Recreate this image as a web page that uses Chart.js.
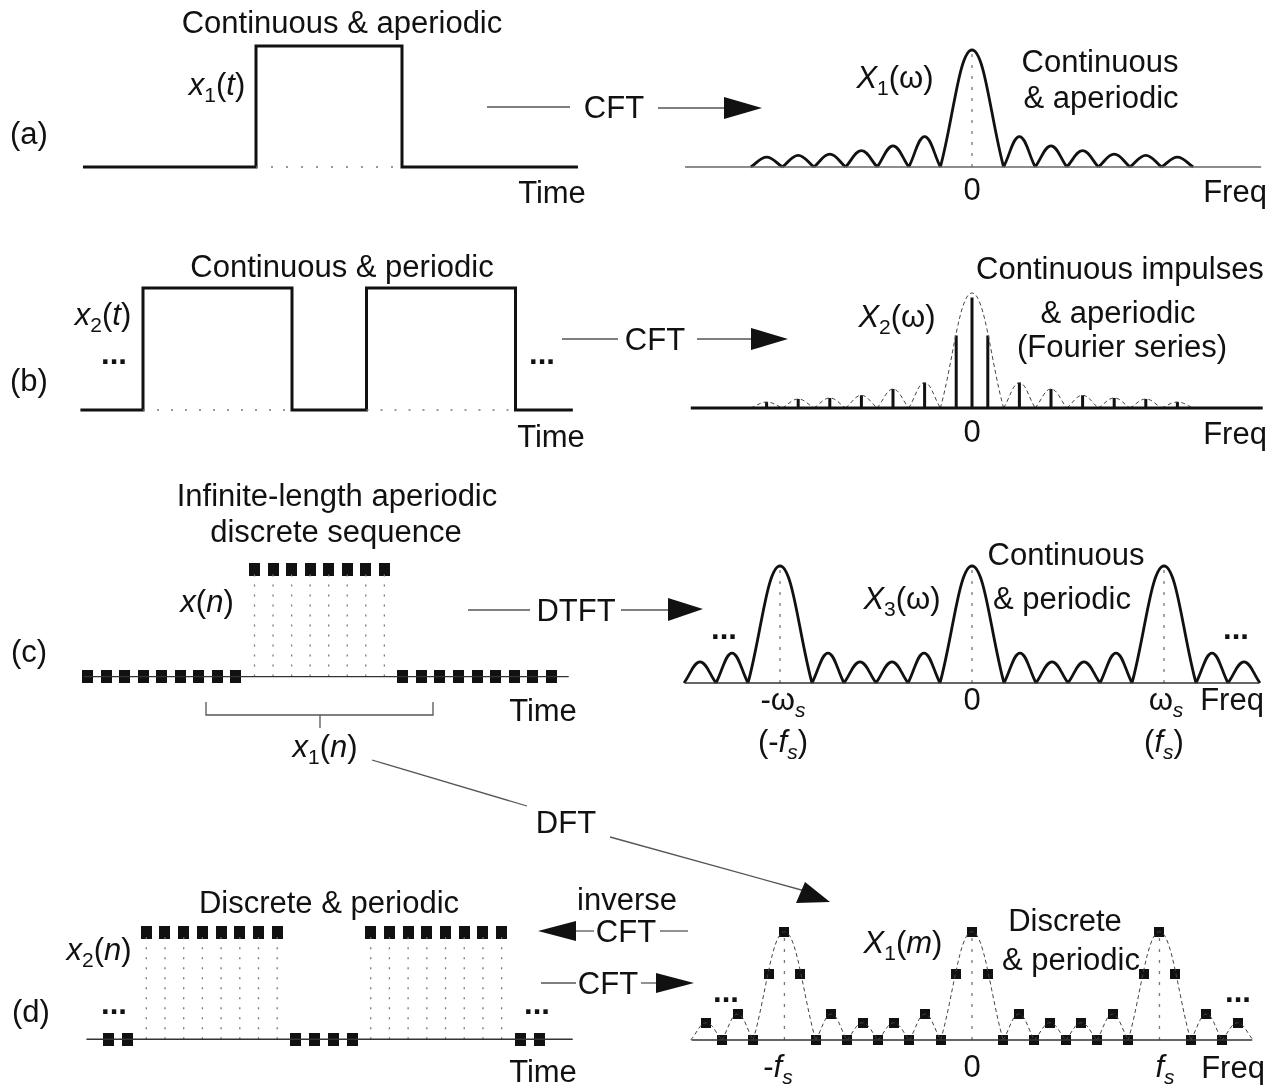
<!DOCTYPE html>
<html>
<head>
<meta charset="utf-8">
<title>Fourier transform relationships</title>
<script src="https://cdn.jsdelivr.net/npm/chart.js@4.4.1/dist/chart.umd.min.js"></script>
<style>
  html, body { margin: 0; padding: 0; background: #fff; }
  #stage { position: relative; width: 1272px; height: 1086px; overflow: hidden; }
  #ink { position: absolute; left: 0; top: 0; z-index: 2; }
  #ink text { font-family: "Liberation Sans", Arial, Helvetica, sans-serif; font-size: 31px; fill: #111; }
</style>
</head>
<body>
<div id="stage">
  <svg id="ink" width="1272" height="1086" xmlns="http://www.w3.org/2000/svg"></svg>
</div>
<script>
// ---------- data ----------
// (a) single pulse x1(t) and its continuous spectrum X1(w)
const pulseTimeA  = [-3.37, -1, -1, 1, 1, 3.41];
const pulseLevelA = [0, 0, 1, 1, 0, 0];
const lobeEdgesA  = [-7, -6, -5, -4, -3, -2, -1, 1, 2, 3, 4, 5, 6, 7];
const lobePeaksA  = [0.085, 0.10, 0.11, 0.14, 0.18, 0.26, 1, 0.26, 0.18, 0.14, 0.11, 0.10, 0.085];
const freqSpanA   = [-9.08, 9.15];

// (b) periodic pulse train x2(t) and its Fourier-series lines X2(w)
const pulseTimeB  = [-1.84, -1, -1, 1, 1, 2, 2, 4, 4, 4.77];
const pulseLevelB = [0, 0, 1, 1, 0, 0, 1, 1, 0, 0];
const lineFreqB   = [-6.5, -5.5, -4.5, -3.5, -2.5, -1.5, -0.5, 0, 0.5, 1.5, 2.5, 3.5, 4.5, 5.5, 6.5];
const lineAmpB    = [0.052, 0.078, 0.087, 0.11, 0.165, 0.22, 0.63, 0.96, 0.63, 0.22, 0.165, 0.11, 0.087, 0.078, 0.052];
const envPeaksB   = [0.052, 0.078, 0.087, 0.11, 0.165, 0.22, 1, 0.22, 0.165, 0.11, 0.087, 0.078, 0.052];
const freqSpanB   = [-8.9, 9.2];

// (c) infinite-length sequence x(n) and its periodic DTFT X3(w)
const seqIndexC = [-9, -8, -7, -6, -5, -4, -3, -2, -1, 0, 1, 2, 3, 4, 5, 6, 7, 8, 9, 10, 11, 12, 13, 14, 15, 16];
const seqValueC = [0, 0, 0, 0, 0, 0, 0, 0, 0, 1, 1, 1, 1, 1, 1, 1, 1, 0, 0, 0, 0, 0, 0, 0, 0, 0];
const timeSpanC = [-9.2, 16.94];
const lobeEdgesC = [-9, -8, -7, -5, -4, -3, -2, -1, 1, 2, 3, 4, 5, 7, 8, 9];
const lobePeaksC = [0.18, 0.256, 1, 0.256, 0.18, 0.18, 0.256, 1, 0.256, 0.18, 0.18, 0.256, 1, 0.256, 0.18];
const centresC   = [-6, 0, 6];
const freqSpanC  = [-8.97, 8.97];

// (d) periodic sequence x2(n) and its DFT X1(m)
const seqIndexD = [0, 1, 2, 3, 4, 5, 6, 7, 8, 9, 10, 11, 12, 13, 14, 15, 16, 17, 18, 19, 20, 21, 22, 23];
const seqValueD = [0, 0, 1, 1, 1, 1, 1, 1, 1, 1, 0, 0, 0, 0, 1, 1, 1, 1, 1, 1, 1, 1, 0, 0];
const timeSpanD = [-1.2, 24.8];
const binD    = [-17, -16, -15, -14, -13, -12, -11, -10, -9, -8, -7, -6, -5, -4, -3, -2, -1, 0,
                 1, 2, 3, 4, 5, 6, 7, 8, 9, 10, 11, 12, 13, 14, 15, 16, 17];
const binMagD = [0.16, 0, 0.24, 0, 0.61, 1, 0.61, 0, 0.24, 0, 0.16, 0, 0.16, 0, 0.24, 0, 0.61, 1,
                 0.61, 0, 0.24, 0, 0.16, 0, 0.16, 0, 0.24, 0, 0.61, 1, 0.61, 0, 0.24, 0, 0.16];
const envEdgesD = [-18, -16, -14, -10, -8, -6, -4, -2, 2, 4, 6, 8, 10, 14, 16, 18];
const envPeaksD = [0.16, 0.24, 1, 0.24, 0.16, 0.16, 0.24, 1, 0.24, 0.16, 0.16, 0.24, 1, 0.24, 0.16];
const centresD  = [-12, 0, 12];
const freqSpanD = [-17.94, 17.94];

// ---------- helpers ----------
const INK = '#111';
const DOT = '#777';

const xy = (xs, ys) => xs.map((x, i) => ({ x, y: ys[i] }));
const span = (s) => [{ x: s[0], y: 0 }, { x: s[1], y: 0 }];

// arch-shaped lobes between consecutive zero crossings
function lobes(edges, peaks) {
  const pts = [];
  peaks.forEach((h, i) => {
    const a = edges[i], b = edges[i + 1];
    pts.push({ x: a, y: 0 }, { x: (a + b) / 2, y: h }, { x: b, y: 0 }, { x: b, y: null });
  });
  return pts;
}
// vertical stems from the axis up to each value
function stems(xs, ys) {
  const pts = [];
  xs.forEach((x, i) => { if (ys[i] > 0) pts.push({ x, y: 0 }, { x, y: ys[i] }, { x, y: null }); });
  return pts;
}
// horizontal runs on the axis underneath the raised parts of a pulse train
function under(times, levels) {
  const pts = [];
  for (let i = 0; i < times.length - 1; i++) {
    if (levels[i] === 1 && levels[i + 1] === 1) pts.push({ x: times[i], y: 0 }, { x: times[i + 1], y: 0 }, { x: times[i + 1], y: null });
  }
  return pts;
}
function block(w, h) {
  const c = document.createElement('canvas');
  c.width = w; c.height = h;
  const g = c.getContext('2d');
  g.fillStyle = INK; g.fillRect(0, 0, w, h);
  return c;
}
const tallBlock = block(11, 13);
const smallBlock = block(10, 10);

const line = (data, o = {}) => Object.assign({
  data, showLine: true, pointRadius: 0, borderColor: INK, borderWidth: 3,
  fill: false, tension: 0, clip: false, spanGaps: false,
  borderJoinStyle: 'miter', borderCapStyle: 'butt'
}, o);
const dotted = (data, dash) => line(data, { borderColor: DOT, borderWidth: 1.3, borderDash: dash });
const blocks = (data, marker) => ({
  data, showLine: false, pointStyle: marker, pointRadius: 6, clip: false
});

// one chart per panel; box = placement on the page, origin/unit = where value 0 sits and px per unit
function panel(box, origin, unit, datasets) {
  const [left, top, w, h] = box;
  const cv = document.createElement('canvas');
  cv.width = w; cv.height = h;
  cv.style.cssText = `position:absolute;left:${left}px;top:${top}px;width:${w}px;height:${h}px;z-index:1`;
  document.getElementById('stage').appendChild(cv);
  new Chart(cv, {
    type: 'scatter',
    data: { datasets },
    options: {
      responsive: false, animation: false, events: [], devicePixelRatio: 1,
      layout: { padding: 0 },
      plugins: { legend: { display: false }, tooltip: { enabled: false } },
      scales: {
        x: { type: 'linear', display: false, min: (left - origin[0]) / unit[0], max: (left + w - origin[0]) / unit[0] },
        y: { type: 'linear', display: false, min: (origin[1] - (top + h)) / unit[1], max: (origin[1] - top) / unit[1] }
      }
    }
  });
}

// ---------- panels ----------
// (a) time
panel([60, 30, 540, 160], [329, 167], [73, 121], [
  dotted(under(pulseTimeA, pulseLevelA), [2, 13]),
  line(xy(pulseTimeA, pulseLevelA))
]);
// (a) frequency
panel([670, 30, 600, 160], [972, 167], [31.6, 117], [
  line(span(freqSpanA), { borderColor: '#666', borderWidth: 1.5 }),
  dotted([{ x: 0, y: 0 }, { x: 0, y: 1 }], [3, 8]),
  line(lobes(lobeEdgesA, lobePeaksA), { tension: 0.4, borderWidth: 2.8 })
]);
// (b) time
panel([60, 270, 540, 160], [217.5, 410], [74.5, 122], [
  dotted(under(pulseTimeB, pulseLevelB), [2, 12]),
  line(xy(pulseTimeB, pulseLevelB))
]);
// (b) frequency
panel([670, 270, 600, 160], [972, 408], [31.6, 115], [
  line(span(freqSpanB), { borderWidth: 3 }),
  line(lobes(lobeEdgesA, envPeaksB), { tension: 0.4, borderWidth: 1, borderColor: '#444', borderDash: [4, 3] }),
  line(stems(lineFreqB, lineAmpB), { borderWidth: 3 })
]);
// (c) time
panel([60, 540, 540, 160], [252.5, 682], [19.04, 117], [
  line(span(timeSpanC), { borderColor: '#333', borderWidth: 1.4 }),
  dotted(stems(seqIndexC, seqValueC), [2, 8]),
  blocks(xy(seqIndexC, seqValueC), tallBlock)
]);
// (c) frequency
panel([670, 540, 600, 160], [972, 683], [32, 117], [
  line(span(freqSpanC), { borderColor: '#333', borderWidth: 1.4 }),
  dotted(stems(centresC, centresC.map(() => 1)), [3, 8]),
  line(lobes(lobeEdgesC, lobePeaksC), { tension: 0.4, borderWidth: 2.8 })
]);
// (d) time
panel([60, 900, 540, 160], [103, 1045], [19.2, 117], [
  line(span(timeSpanD), { borderColor: '#333', borderWidth: 1.4 }),
  dotted(stems(seqIndexD, seqValueD), [2, 8]),
  blocks(xy(seqIndexD, seqValueD), tallBlock)
]);
// (d) frequency
panel([670, 900, 600, 170], [972, 1045], [16, 118], [
  line(span(freqSpanD), { borderColor: '#333', borderWidth: 1.4 }),
  dotted(stems(centresD, centresD.map(() => 1)), [3, 8]),
  line(lobes(envEdgesD, envPeaksD), { tension: 0.4, borderWidth: 1, borderColor: '#444', borderDash: [4, 3] }),
  blocks(xy(binD, binMagD), smallBlock)
]);

// ---------- labels, arrows ----------
const NS = 'http://www.w3.org/2000/svg';
const svg = document.getElementById('ink');
function el(tag, attrs) {
  const e = document.createElementNS(NS, tag);
  for (const k in attrs) e.setAttribute(k, attrs[k]);
  svg.appendChild(e);
  return e;
}
// parts: [text, flags] where i = italic, s = subscript
function label(x, y, parts, extra = {}) {
  const t = el('text', Object.assign({ x, y, 'text-anchor': 'middle' }, extra));
  let shift = 0;
  for (const [s, f = ''] of parts) {
    const sp = document.createElementNS(NS, 'tspan');
    const want = f.includes('s') ? 7 : 0;
    if (want !== shift) { sp.setAttribute('dy', want - shift); shift = want; }
    if (f.includes('i')) sp.setAttribute('font-style', 'italic');
    if (f.includes('s')) sp.setAttribute('font-size', '21');
    sp.textContent = s;
    t.appendChild(sp);
  }
}
const dots = (x, y) => label(x, y, [['...']], { 'font-weight': 'bold' });

// row (a)
label(29, 144, [['(a)']]);
label(342, 33, [['Continuous & aperiodic']]);
label(217, 95, [['x', 'i'], ['1', 's'], ['('], ['t', 'i'], [')']]);
label(552, 203, [['Time']]);
label(614, 118, [['CFT']]);
label(895, 88, [['X', 'i'], ['1', 's'], ['(ω)']]);
label(1100, 72, [['Continuous']]);
label(1101, 108, [['& aperiodic']]);
label(972, 200, [['0']]);
label(1235, 202, [['Freq']]);
// row (b)
label(29, 391, [['(b)']]);
label(342, 277, [['Continuous & periodic']]);
label(103, 325, [['x', 'i'], ['2', 's'], ['('], ['t', 'i'], [')']]);
dots(114, 364); dots(542, 364);
label(551, 447, [['Time']]);
label(655, 350, [['CFT']]);
label(897, 327, [['X', 'i'], ['2', 's'], ['(ω)']]);
label(1120, 279, [['Continuous impulses']]);
label(1118, 323, [['& aperiodic']]);
label(1122, 357, [['(Fourier series)']]);
label(972, 442, [['0']]);
label(1235, 444, [['Freq']]);
// row (c)
label(29, 662, [['(c)']]);
label(337, 506, [['Infinite-length aperiodic']]);
label(336, 542, [['discrete sequence']]);
label(207, 612, [['x', 'i'], ['('], ['n', 'i'], [')']]);
label(543, 721, [['Time']]);
label(325, 757, [['x', 'i'], ['1', 's'], ['('], ['n', 'i'], [')']]);
label(576, 621, [['DTFT']]);
label(566, 833, [['DFT']]);
label(902, 609, [['X', 'i'], ['3', 's'], ['(ω)']]);
label(1066, 565, [['Continuous']]);
label(1062, 609, [['& periodic']]);
label(783, 710, [['-ω'], ['s', 'si']]);
label(783, 752, [['(-'], ['f', 'i'], ['s', 'si'], [')']]);
label(972, 710, [['0']]);
label(1166, 710, [['ω'], ['s', 'si']]);
label(1164, 752, [['('], ['f', 'i'], ['s', 'si'], [')']]);
label(1232, 710, [['Freq']]);
dots(724, 639); dots(1236, 639);
// row (d)
label(31, 1022, [['(d)']]);
label(329, 913, [['Discrete & periodic']]);
label(627, 910, [['inverse']]);
label(626, 942, [['CFT']]);
label(608, 994, [['CFT']]);
label(99, 960, [['x', 'i'], ['2', 's'], ['('], ['n', 'i'], [')']]);
dots(114, 1014); dots(537, 1014);
label(543, 1082, [['Time']]);
label(903, 953, [['X', 'i'], ['1', 's'], ['('], ['m', 'i'], [')']]);
label(1065, 931, [['Discrete']]);
label(1071, 970, [['& periodic']]);
label(778, 1077, [['-'], ['f', 'i'], ['s', 'si']]);
label(972, 1077, [['0']]);
label(1165, 1077, [['f', 'i'], ['s', 'si']]);
label(1233, 1078, [['Freq']]);
dots(726, 1002); dots(1238, 1002);

// connector lines and arrow heads
const wires = [
  [487, 107, 570, 107], [658, 108, 726, 108],
  [562, 339, 618, 339], [697, 339, 753, 339],
  [468, 610, 530, 610], [621, 610, 670, 610],
  [574, 931, 594, 931], [660, 931, 688, 931],
  [541, 983, 576, 983], [641, 983, 658, 983],
  [372, 760, 527, 806], [610, 837, 805, 891],
  [320, 715, 320, 728]
];
wires.forEach(([x1, y1, x2, y2]) => el('line', { x1, y1, x2, y2, stroke: '#555', 'stroke-width': 1.3 }));
el('polyline', { points: '206,702 206,715 433,715 433,702', fill: 'none', stroke: '#555', 'stroke-width': 1.3 });
const heads = [
  '724,97 762,108 724,119',
  '751,328 788,339 751,350',
  '668,598 703,609 668,621',
  '538,931 576,921 576,941',
  '656,973 694,983 656,993',
  '830,902 796,903 805,882'
];
heads.forEach(p => el('polygon', { points: p, fill: INK }));
</script>
</body>
</html>
